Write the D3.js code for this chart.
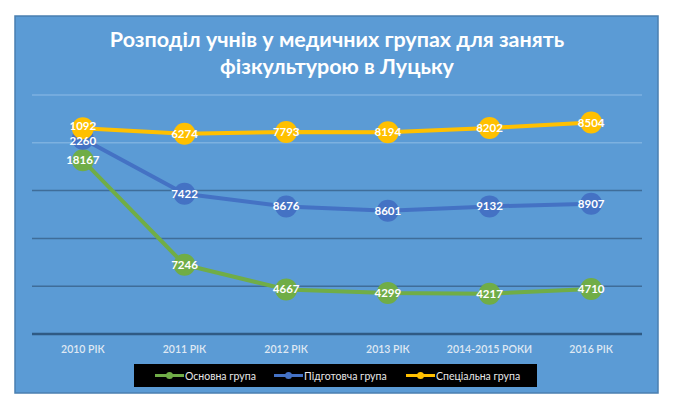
<!DOCTYPE html>
<html lang="uk">
<head>
  <meta charset="UTF-8">
  <title>Розподіл учнів у медичних групах</title>
  <script src="https://d3js.org/d3.v7.min.js"></script>
  <style>
    body { margin: 0; background: #fff; }
    svg { display: block; font-family: Lato, "Open Sans", sans-serif; }
  </style>
</head>
<body>
  <div id="chart"></div>
  <script>
    // Дані з діаграми
    const years = ['2010 РІК', '2011 РІК', '2012 РІК', '2013 РІК', '2014-2015 РОКИ', '2016 РІК'];
    const osnovna = [18167, 7246, 4667, 4299, 4217, 4710];
    const pidgotovcha = [2260, 7422, 8676, 8601, 9132, 8907];
    const specialna = [1092, 6274, 7793, 8194, 8202, 8504];
    const seriesNames = ['Основна група', 'Підготовча група', 'Спеціальна група'];
    const seriesColors = ['#70ad47', '#4472c4', '#ffc000'];
    const yTicks = [0, 5000, 10000, 15000, 20000, 25000];

    const width = 675, height = 408;
    const frame = { x: 15, y: 16, w: 643, h: 377 };
    const plot = { left: 32, right: 642, top: 95, bottom: 334 };

    const svg = d3.select('#chart').append('svg')
      .attr('width', width)
      .attr('height', height);

    svg.append('rect')
      .attr('x', frame.x).attr('y', frame.y)
      .attr('width', frame.w).attr('height', frame.h)
      .attr('fill', '#5b9bd5')
      .attr('stroke', '#4a7fb0')
      .attr('stroke-width', 1.5);

    // Заголовок
    const title = svg.append('text')
      .attr('text-anchor', 'middle')
      .attr('fill', '#fff')
      .attr('font-size', 21.5)
      .attr('font-weight', 'bold');
    title.append('tspan').attr('x', 337).attr('y', 47).text('Розподіл учнів у медичних групах для занять');
    title.append('tspan').attr('x', 337).attr('y', 74).text('фізкультурою в Луцьку');

    // Накопичені значення (лінійна діаграма з накопиченням)
    const rows = years.map((y, i) => ({ year: y, a: osnovna[i], b: pidgotovcha[i], c: specialna[i] }));
    const stacked = d3.stack().keys(['a', 'b', 'c'])(rows);
    const raw = [osnovna, pidgotovcha, specialna];

    const x = d3.scaleBand().domain(years).range([plot.left, plot.right]);
    const y = d3.scaleLinear().domain([0, 25000]).range([plot.bottom, plot.top]);

    // Сітка
    svg.append('g').selectAll('line')
      .data(yTicks.filter(t => t > 0))
      .join('line')
      .attr('x1', plot.left).attr('x2', plot.right)
      .attr('y1', d => y(d)).attr('y2', d => y(d))
      .attr('stroke', d => d >= 20000 ? '#7db1e0' : '#3f6d99')
      .attr('stroke-width', 1.5);

    svg.append('line')
      .attr('x1', plot.left).attr('x2', plot.right)
      .attr('y1', y(0)).attr('y2', y(0))
      .attr('stroke', '#2f5a84')
      .attr('stroke-width', 2.5);

    // Підписи осі X
    const xAxis = svg.append('g')
      .attr('transform', `translate(0,${plot.bottom + 12})`)
      .call(d3.axisBottom(x).tickSize(0).tickPadding(0));
    xAxis.select('.domain').remove();
    xAxis.selectAll('text')
      .attr('fill', '#dfe8f3')
      .attr('font-size', 10.5)
      .attr('font-weight', 600)
      .attr('font-family', 'Lato, sans-serif');

    const cx = d => x(d.data.year) + x.bandwidth() / 2;
    const line = d3.line().x(cx).y(d => y(d[1]));

    stacked.forEach((s, k) => {
      svg.append('path')
        .datum(s)
        .attr('d', line)
        .attr('fill', 'none')
        .attr('stroke', seriesColors[k])
        .attr('stroke-width', 4)
        .attr('stroke-linejoin', 'round');
      svg.append('g').selectAll('circle')
        .data(s)
        .join('circle')
        .attr('cx', cx)
        .attr('cy', d => y(d[1]))
        .attr('r', 11)
        .attr('fill', seriesColors[k]);
    });

    // у 2010 підписи жовтої та синьої серій майже торкаються, трохи розсуваємо
    const nudge = (k, i) => (i === 0 && k === 2 ? -2 : i === 0 && k === 1 ? 2 : 0);
    stacked.forEach((s, k) => {
      svg.append('g').selectAll('text')
        .data(s)
        .join('text')
        .attr('x', cx)
        .attr('y', (d, i) => y(d[1]) + 4 + nudge(k, i))
        .attr('text-anchor', 'middle')
        .attr('fill', '#fff')
        .attr('font-size', 11.5)
        .attr('font-weight', 'bold')
        .text((d, i) => raw[k][i]);
    });

    // Легенда
    const legend = svg.append('g');
    legend.append('rect')
      .attr('x', 134).attr('y', 364)
      .attr('width', 403).attr('height', 23)
      .attr('fill', '#000');
    const legendX = [155, 274, 406];
    seriesNames.forEach((name, k) => {
      const g = legend.append('g').attr('transform', `translate(${legendX[k]},375.5)`);
      g.append('line').attr('x1', 0).attr('x2', 29)
        .attr('stroke', seriesColors[k]).attr('stroke-width', 3);
      g.append('circle').attr('cx', 14.5).attr('r', 3.5).attr('fill', seriesColors[k]);
      g.append('text').attr('x', 30).attr('y', 4)
        .attr('fill', '#e8e8e8')
        .attr('font-size', 10.5)
        .text(name);
    });
  </script>
</body>
</html>
